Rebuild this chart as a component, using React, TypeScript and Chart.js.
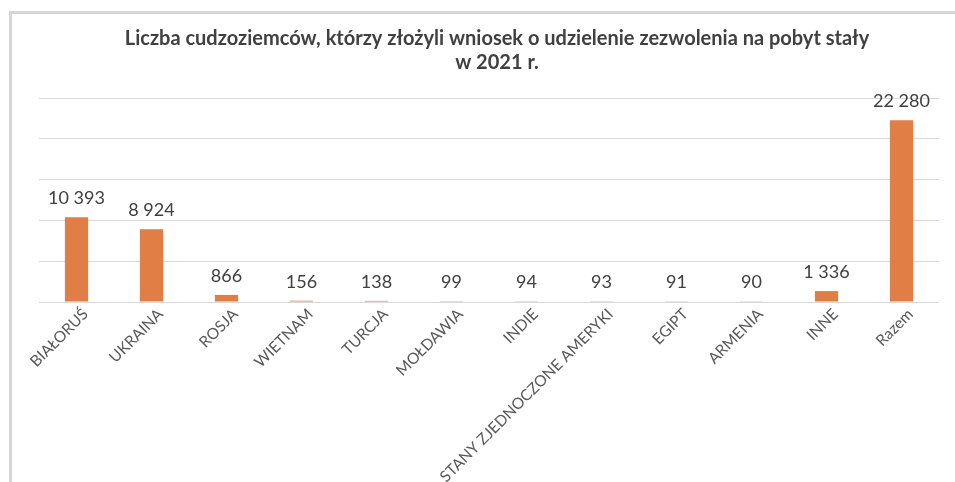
import React, { useEffect, useRef } from "react";
import { Chart, registerables } from "chart.js";

Chart.register(...registerables);

const titleLines = [
  "Liczba cudzoziemców, którzy złożyli wniosek o udzielenie zezwolenia na pobyt stały",
  "w 2021 r.",
];
const categories = [
  "BIAŁORUŚ",
  "UKRAINA",
  "ROSJA",
  "WIETNAM",
  "TURCJA",
  "MOŁDAWIA",
  "INDIE",
  "STANY ZJEDNOCZONE AMERYKI",
  "EGIPT",
  "ARMENIA",
  "INNE",
  "Razem",
];
const values = [10393, 8924, 866, 156, 138, 99, 94, 93, 91, 90, 1336, 22280];
const yMin = 0;
const yMax = 25000;
const yStep = 5000;

const BAR_COLOR = "#E07E45";
const TEXT_COLOR = "#404040";
const LABEL_COLOR = "#595959";
const GRID_COLOR = "#D9D9D9";
const FONT = "Lato, 'Open Sans', sans-serif";

function fmt(v: number): string {
  return String(v).replace(/\B(?=(\d{3})+(?!\d))/g, " ");
}

const titlePlugin = {
  id: "customTitle",
  afterDraw(chart: any) {
    const ctx = chart.ctx;
    ctx.save();
    ctx.fillStyle = TEXT_COLOR;
    ctx.font = `bold 20px ${FONT}`;
    ctx.textAlign = "center";
    ctx.textBaseline = "alphabetic";
    const cx = 497;
    titleLines.forEach((line, i) => {
      ctx.fillText(line, cx, 45 + i * 24);
    });
    ctx.restore();
  },
};

const valueLabelPlugin = {
  id: "valueLabels",
  afterDatasetsDraw(chart: any) {
    const ctx = chart.ctx;
    const meta = chart.getDatasetMeta(0);
    ctx.save();
    ctx.fillStyle = TEXT_COLOR;
    ctx.font = `18px ${FONT}`;
    ctx.textAlign = "center";
    ctx.textBaseline = "alphabetic";
    meta.data.forEach((bar: any, i: number) => {
      ctx.fillText(fmt(values[i]), bar.x, bar.y - 13);
    });
    ctx.restore();
  },
};

export default function App() {
  const canvasRef = useRef<HTMLCanvasElement | null>(null);

  useEffect(() => {
    if (!canvasRef.current) return;
    const chart = new Chart(canvasRef.current, {
      type: "bar",
      data: {
        labels: categories,
        datasets: [
          {
            data: values,
            backgroundColor: BAR_COLOR,
            borderWidth: 0,
            barPercentage: 0.31,
            categoryPercentage: 1,
          },
        ],
      },
      options: {
        responsive: false,
        animation: false,
        layout: { padding: { left: 39, right: 16, top: 98, bottom: 0 } },
        plugins: {
          legend: { display: false },
          title: { display: false },
          tooltip: { enabled: false },
        },
        scales: {
          x: {
            grid: { display: false, drawTicks: false },
            border: { display: false },
            ticks: {
              autoSkip: false,
              minRotation: 45,
              maxRotation: 45,
              padding: 3,
              labelOffset: 9,
              color: LABEL_COLOR,
              font: { family: FONT, size: 15.5 },
            },
            afterFit: (scale: any) => {
              scale.height = 180;
            },
          },
          y: {
            min: yMin,
            max: yMax,
            ticks: { display: false, stepSize: yStep },
            grid: { color: GRID_COLOR, lineWidth: 1, drawTicks: false },
            border: { display: false },
            afterFit: (scale: any) => {
              scale.width = 0;
            },
          },
        },
      },
      plugins: [titlePlugin, valueLabelPlugin],
    });
    return () => chart.destroy();
  }, []);

  return (
    <div
      style={{
        position: "fixed",
        left: 0,
        top: 0,
        width: 955,
        height: 482,
        background: "#fff",
        overflow: "hidden",
      }}
    >
      <div
        style={{
          position: "absolute",
          left: 9,
          top: 11,
          right: 0,
          bottom: 0,
          borderTop: "3px solid #D6D6D6",
          borderLeft: "3px solid #D6D6D6",
        }}
      />
      <canvas
        ref={canvasRef}
        width={955}
        height={482}
        style={{ position: "absolute", left: 0, top: 0 }}
      />
    </div>
  );
}
